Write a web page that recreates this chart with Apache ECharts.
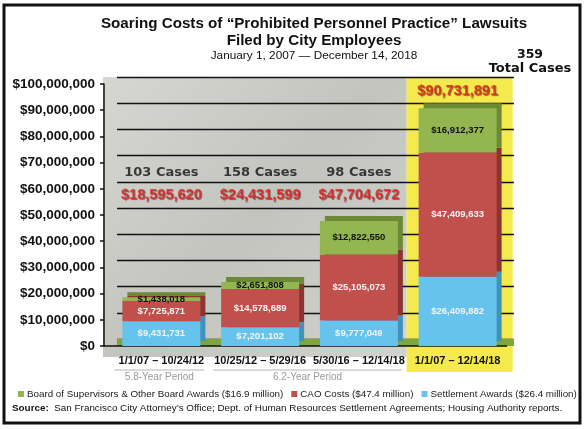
<!DOCTYPE html>
<html><head><meta charset="utf-8">
<script src="https://cdn.jsdelivr.net/npm/echarts@6/dist/echarts.min.js"></script>
<style>html,body{margin:0;padding:0;background:#fff}#c{width:587px;height:429px}</style>
</head><body><div id="c"></div>
<script>
// ---- data ----
const categories = ['1/1/07 – 10/24/12', '10/25/12 – 5/29/16', '5/30/16 – 12/14/18', '1/1/07 – 12/14/18'];
const settlementAwards = [9431731, 7201102, 9777049, 26409882];
const caoCosts = [7725871, 14578689, 25105073, 47409633];
const boardAwards = [1438018, 2651808, 12822550, 16912377];
const totalCosts = [18595620, 24431599, 47704672, 90731891];
const caseCounts = [103, 158, 98];
const totalCases = 359;
const seriesNames = ['Settlement Awards ($26.4 million)', 'CAO Costs ($47.4 million)', 'Board of Supervisors & Other Board Awards ($16.9 million)'];
const periods = [{ label: '5.8-Year Period', from: 0, to: 0 }, { label: '6.2-Year Period', from: 1, to: 2 }];
const yMin = 0, yMax = 100000000, yStep = 10000000;

// ---- style ----
const F = '"Liberation Sans", Arial, sans-serif';
const FW = '"DejaVu Sans", sans-serif';
const GREEN = '#93b650', RED = '#c1504c', BLUE = '#66c4ec';
const CASES_LEVEL = 66000000, TOTALS_LEVEL = 57600000;
const money = v => '$' + Number(v).toLocaleString('en-US');

const chart = echarts.init(document.getElementById('c'));

const barLabel = (color) => ({
  show: true, position: 'inside', color: color, fontFamily: F, fontWeight: 'bold', fontSize: 9.5,
  formatter: p => money(p.value)
});
const mkBar = (name, data, color, shadow, labColor) => ({
  name, type: 'bar', stack: 'all', xAxisIndex: 1, yAxisIndex: 1, barWidth: 78, data,
  itemStyle: { color, shadowColor: shadow, shadowBlur: 0, shadowOffsetX: 5, shadowOffsetY: -5 },
  label: barLabel(labColor), z: 3
});

const option = {
  animation: false,
  backgroundColor: '#fff',
  grid: [
    { left: 117, right: 73, top: 77, bottom: 90 },
    { left: 112, right: 80, top: 84, bottom: 83 },
    { left: 104, right: 80, top: 84, bottom: 83 }
  ],
  xAxis: [
    { gridIndex: 0, type: 'category', data: categories, axisLabel: { show: false }, axisTick: { show: false },
      axisLine: { show: true, onZero: false, lineStyle: { color: '#7fa63e', width: 7, cap: 'butt' } }, offset: 3.5 },
    { gridIndex: 1, type: 'category', data: categories, axisTick: { show: false }, axisLine: { show: false },
      axisLabel: { interval: 0, margin: 9, color: '#111', fontFamily: F, fontWeight: 'bold', fontSize: 11 } },
    { gridIndex: 2, type: 'category', data: categories, axisTick: { show: false }, axisLabel: { show: false },
      axisLine: { show: true, lineStyle: { color: '#111', width: 1.5, cap: 'butt' } } }
  ],
  yAxis: [
    { gridIndex: 0, type: 'value', min: yMin, max: yMax, interval: yStep, axisLabel: { show: false },
      axisLine: { show: false }, axisTick: { show: false }, splitLine: { show: true, lineStyle: { color: '#111', width: 1.4 } } },
    { gridIndex: 1, type: 'value', min: yMin, max: yMax, interval: yStep, show: false },
    { gridIndex: 2, type: 'value', min: yMin, max: yMax, interval: yStep, splitLine: { show: false },
      axisLine: { show: true, lineStyle: { color: '#111', width: 1.5 } },
      axisTick: { show: true, length: 4, lineStyle: { color: '#111', width: 1.5 } },
      axisLabel: { margin: 9, color: '#111', fontFamily: F, fontWeight: 'bold', fontSize: 13.5, formatter: v => money(v) } }
  ],
  legend: {
    data: [seriesNames[2], seriesNames[1], seriesNames[0]],
    left: 18, top: 389, icon: 'rect', itemWidth: 6, itemHeight: 6, itemGap: 8, padding: 0,
    textStyle: { fontFamily: F, fontSize: 9.8, color: '#222', padding: [0, 0, 0, -2] }
  },
  series: [
    mkBar(seriesNames[0], settlementAwards, BLUE, '#3f93b8', '#f4f4f4'),
    mkBar(seriesNames[1], caoCosts, RED, '#8c3431', '#f4f4f4'),
    mkBar(seriesNames[2], boardAwards, GREEN, '#6b8a33', '#111'),
    {
      name: 'cases', type: 'scatter', xAxisIndex: 1, yAxisIndex: 1, symbolSize: 1, z: 5,
      itemStyle: { color: 'rgba(0,0,0,0)' },
      data: caseCounts.map((c, i) => ({ value: [i, CASES_LEVEL], cases: c })),
      label: { show: true, position: 'inside', formatter: p => p.data.cases + ' Cases',
        fontFamily: FW, fontWeight: 'bold', fontSize: 13, color: '#111' }
    },
    {
      name: 'totals', type: 'scatter', xAxisIndex: 1, yAxisIndex: 1, symbolSize: 1, z: 5,
      itemStyle: { color: 'rgba(0,0,0,0)' },
      data: totalCosts.map((t, i) => i < 3
        ? { value: [i, TOTALS_LEVEL], total: t }
        : { value: [i, t], total: t, label: { position: 'top', distance: 9 } }),
      label: { show: true, position: 'inside', formatter: p => money(p.data.total),
        fontFamily: F, fontWeight: 'bold', fontSize: 14.5, color: '#e3211d',
        textShadowColor: 'rgba(70,20,20,0.75)', textShadowOffsetX: 1, textShadowOffsetY: 1, textShadowBlur: 1 }
    }
  ]
};
chart.setOption(option);

// ---- decorations positioned from the axes ----
const cx = i => chart.convertToPixel({ xAxisIndex: 1 }, categories[i]);
const py = v => chart.convertToPixel({ yAxisIndex: 1 }, v);
const yTop = py(yMax), yZero = py(0);
const gfx = [];
// money-photo backdrop (approximated as grey)
gfx.push({ type: 'rect', z: -20, shape: { x: 103, y: yTop - 7, width: cx(3) - 51 - 103, height: yZero + 11 - (yTop - 7) },
  style: { fill: new echarts.graphic.LinearGradient(0, 0, 1, 1, [
    { offset: 0, color: '#d6d6d2' }, { offset: 0.5, color: '#c4c4bf' }, { offset: 1, color: '#d2d2ce' }]) } });
// yellow highlight column
gfx.push({ type: 'rect', z: -15, shape: { x: cx(3) - 51, y: yTop - 7, width: 106, height: yZero + 26 - (yTop - 7) },
  style: { fill: '#f4e94d' } });
// period brackets
periods.forEach(p => {
  const x1 = cx(p.from) - 47, x2 = cx(p.to) + 43;
  gfx.push({ type: 'line', z: 10, shape: { x1, y1: yZero + 24, x2, y2: yZero + 24 }, style: { stroke: '#b5b5b5', lineWidth: 1.2 } });
  gfx.push({ type: 'text', z: 10, x: (x1 + x2) / 2, y: yZero + 31,
    style: { text: p.label, align: 'center', verticalAlign: 'middle', fontFamily: F, fontSize: 10, fill: '#9a9a9a' } });
});
// titles
gfx.push({ type: 'text', z: 10, x: 314, y: 24, style: { text: 'Soaring Costs of “Prohibited Personnel Practice” Lawsuits',
  align: 'center', verticalAlign: 'middle', fontFamily: F, fontWeight: 'bold', fontSize: 15.2, fill: '#111' } });
gfx.push({ type: 'text', z: 10, x: 314, y: 41, style: { text: 'Filed by City Employees',
  align: 'center', verticalAlign: 'middle', fontFamily: F, fontWeight: 'bold', fontSize: 15.2, fill: '#111' } });
gfx.push({ type: 'text', z: 10, x: 314, y: 56, style: { text: 'January 1, 2007 — December 14, 2018',
  align: 'center', verticalAlign: 'middle', fontFamily: F, fontSize: 11.8, fill: '#111' } });
gfx.push({ type: 'text', z: 10, x: 530, y: 55, style: { text: String(totalCases),
  align: 'center', verticalAlign: 'middle', fontFamily: FW, fontWeight: 'bold', fontSize: 12.5, fill: '#111' } });
gfx.push({ type: 'text', z: 10, x: 530, y: 69, style: { text: 'Total Cases',
  align: 'center', verticalAlign: 'middle', fontFamily: FW, fontWeight: 'bold', fontSize: 13, fill: '#111' } });
// source
gfx.push({ type: 'text', z: 10, x: 12, y: 408, style: {
  text: '{b|Source:}  San Francisco City Attorney’s Office; Dept. of Human Resources Settlement Agreements; Housing Authority reports.',
  align: 'left', verticalAlign: 'middle', fontFamily: F, fontSize: 9.9, fill: '#111',
  rich: { b: { fontFamily: F, fontWeight: 'bold', fontSize: 9.9, fill: '#111' } } } });
// frame
gfx.push({ type: 'rect', z: 50, shape: { x: 4, y: 5, width: 576, height: 418 },
  style: { fill: 'none', stroke: '#111', lineWidth: 3 } });
chart.setOption({ graphic: gfx });
</script></body></html>
